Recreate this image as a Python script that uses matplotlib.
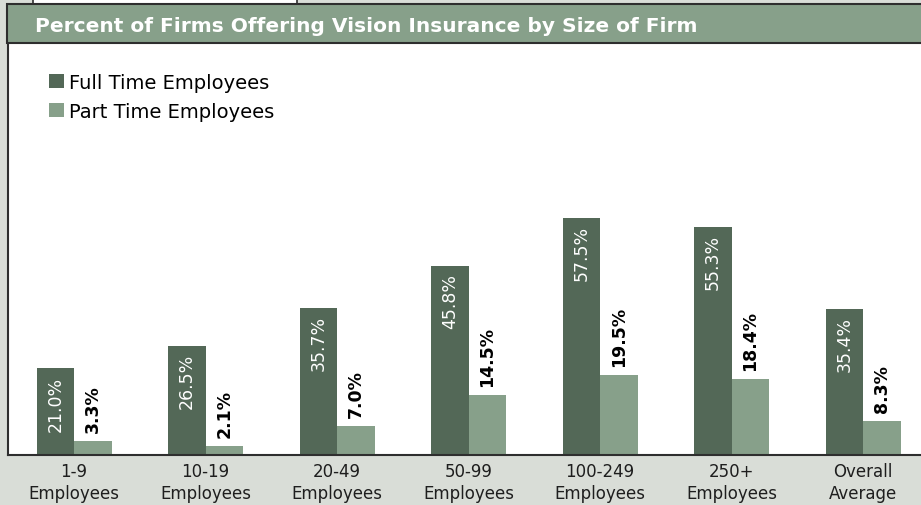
import numpy as np
import matplotlib.pyplot as plt
from matplotlib.patches import Rectangle, Patch

# dados
categorias = ['1-9\nEmployees', '10-19\nEmployees', '20-49\nEmployees', '50-99\nEmployees',
              '100-249\nEmployees', '250+\nEmployees', 'Overall\nAverage']
full_time = [21.0, 26.5, 35.7, 45.8, 57.5, 55.3, 35.4]
part_time = [3.3, 2.1, 7.0, 14.5, 19.5, 18.4, 8.3]
series_names = ['Full Time Employees', 'Part Time Employees']
titulo = 'Percent of Firms Offering Vision Insurance by Size of Firm'

cor_ft = '#536857'
cor_pt = '#87a08a'
cor_fundo = '#d9ddd7'
cor_borda = '#2e2e2e'

W, H = 921, 506
fig = plt.figure(figsize=(W / 100, H / 100), dpi=100, facecolor=cor_fundo)

def px_rect(x0, y0, x1, y1, **kw):
    # retângulo em pixels (origem no topo)
    fig.patches.append(Rectangle((x0 / W, 1 - y1 / H), (x1 - x0) / W, (y1 - y0) / H,
                                 transform=fig.transFigure, figure=fig, **kw))

# caixa branca no topo e barra do título
px_rect(33, -3, 297, 5, facecolor='white', edgecolor=cor_borda, lw=1.2)
px_rect(7, 5, 925, 44, facecolor=cor_pt, edgecolor=cor_borda, lw=1.5)
fig.text(35 / W, 1 - 27 / H, titulo, color='white', fontsize=14.5, fontweight='bold',
         ha='left', va='center')

ax = fig.add_axes([8 / W, 1 - 456 / H, 913 / W, 412 / H])
ax.set_facecolor('white')

x = np.arange(len(categorias))
w = 0.285
bars_ft = ax.bar(x - w / 2, full_time, w, color=cor_ft)
bars_pt = ax.bar(x + w / 2, part_time, w, color=cor_pt)

ax.set_xlim(-0.502, 6.44)
ax.set_ylim(0, 100)
ax.set_yticks([])
ax.set_xticks(x)
ax.set_xticklabels(categorias, fontsize=12, color='#1e1e1e', linespacing=1.3)
ax.tick_params(axis='x', length=0, pad=5)

for s in ['top', 'right']:
    ax.spines[s].set_visible(False)
for s in ['left', 'bottom']:
    ax.spines[s].set_color(cor_borda)
    ax.spines[s].set_linewidth(1.5)

for bar in bars_ft:
    h = bar.get_height()
    ax.annotate(f'{h:.1f}%', (bar.get_x() + bar.get_width() / 2, h),
                xytext=(0, -5), textcoords='offset points', rotation=90,
                ha='center', va='top', color='white', fontsize=12.5)

for bar in bars_pt:
    h = bar.get_height()
    ax.annotate(f'{h:.1f}%', (bar.get_x() + bar.get_width() / 2, h),
                xytext=(0, 6.5), textcoords='offset points', rotation=90,
                ha='center', va='bottom', color='black', fontsize=12.5, fontweight='bold')

handles = [Patch(facecolor=cor_ft), Patch(facecolor=cor_pt)]
ax.legend(handles, series_names, loc='upper left', bbox_to_anchor=(41 / 913, 1 - 30 / 412),
          frameon=False, fontsize=14, handlelength=0.75, handleheight=0.75,
          handletextpad=0.3, labelspacing=0.5, borderaxespad=0, borderpad=0)

fig.savefig('out.png', dpi=100, facecolor=cor_fundo)
